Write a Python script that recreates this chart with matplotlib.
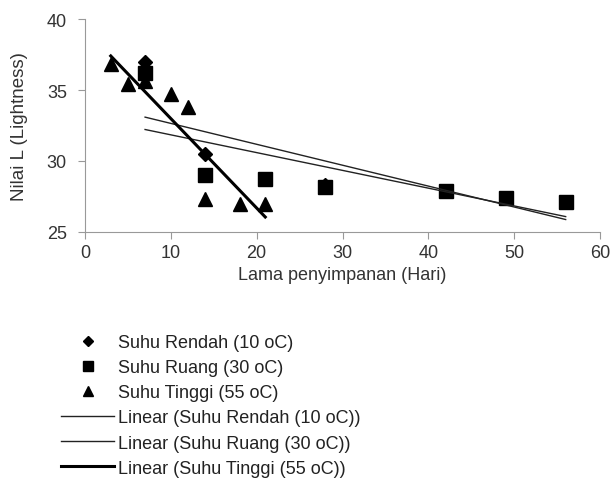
import matplotlib
matplotlib.use("Agg")
import matplotlib.pyplot as plt
import numpy as np

plt.rcParams['font.family'] = ['Liberation Sans', 'DejaVu Sans']

# data
hari_rendah = [7, 14, 21, 28, 42, 49, 56]
L_rendah = [37.0, 30.5, 28.7, 28.3, 27.9, 27.4, 27.1]

hari_ruang = [7, 14, 21, 28, 42, 49, 56]
L_ruang = [36.2, 29.0, 28.7, 28.2, 27.9, 27.4, 27.1]

hari_tinggi = [3, 5, 7, 10, 12, 14, 18, 21]
L_tinggi = [36.8, 35.4, 35.6, 34.7, 33.8, 27.3, 27.0, 27.0]

labels = ['Suhu Rendah (10 oC)', 'Suhu Ruang (30 oC)', 'Suhu Tinggi (55 oC)']

fig = plt.figure(figsize=(6.12, 4.81), dpi=100)
ax = fig.add_axes([85/612, 1 - 233/481, 515/612, 213/481])

fs = 13
grey = '#999999'
txt = '#333333'

h1, = ax.plot(hari_rendah, L_rendah, 'D', color='black', markersize=7, linestyle='none', label=labels[0])
h2, = ax.plot(hari_ruang, L_ruang, 's', color='black', markersize=10, linestyle='none', label=labels[1])
h3, = ax.plot(hari_tinggi, L_tinggi, '^', color='black', markersize=10, linestyle='none', label=labels[2])


def trend(x, y):
    k, c = np.polyfit(x, y, 1)  # linear trendline like excel
    xs = np.array([min(x), max(x)])
    return xs, k*xs + c


xs, ys = trend(hari_rendah, L_rendah)
t1, = ax.plot(xs, ys, color='#222222', linewidth=1.0, label='Linear (' + labels[0] + ')')
xs, ys = trend(hari_ruang, L_ruang)
t2, = ax.plot(xs, ys, color='#222222', linewidth=1.0, label='Linear (' + labels[1] + ')')
xs, ys = trend(hari_tinggi, L_tinggi)
t3, = ax.plot(xs, ys, color='black', linewidth=2.2, label='Linear (' + labels[2] + ')')

ax.set_xlim(0, 60)
ax.set_ylim(25, 40)
ax.set_xticks([0, 10, 20, 30, 40, 50, 60])
ax.set_yticks([25, 30, 35, 40])
for s in ['top', 'right']:
    ax.spines[s].set_visible(False)
for s in ['left', 'bottom']:
    ax.spines[s].set_color(grey)
ax.tick_params(direction='out', length=5, color=grey, labelsize=fs, labelcolor=txt)
ax.tick_params(axis='y', pad=8)
ax.set_xlabel('Lama penyimpanan (Hari)', fontsize=fs, color=txt)
ax.set_ylabel('Nilai L (Lightness)', fontsize=13.5, color=txt)
ax.yaxis.set_label_coords(-0.111, 0.5)

fig.legend(handles=[h1, h2, h3, t1, t2, t3], loc='upper left',
           bbox_to_anchor=(52/612, 1 - 326/481), frameon=False, fontsize=fs,
           handlelength=2.95, handletextpad=0.2, labelspacing=0.45, markerscale=0.75,
           borderpad=0, labelcolor='#222222')

plt.savefig('out.png', dpi=100)
